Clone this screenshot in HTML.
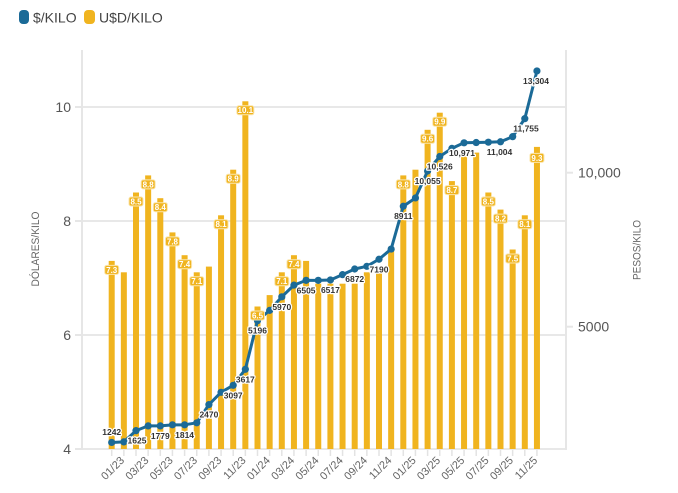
<!DOCTYPE html>
<html>
<head>
<meta charset="utf-8">
<style>
  html, body { margin: 0; padding: 0; background: #fff; }
  svg { display: block; font-family: "Liberation Sans", sans-serif; }
  .bl { font-size: 8px; font-weight: bold; fill: #fff; text-anchor: middle; }
  .ll { font-size: 8.5px; font-weight: bold; fill: #333; text-anchor: middle; stroke: #fff; stroke-width: 2.5px; paint-order: stroke; stroke-linejoin: round; }
  .xl { font-size: 11px; fill: #666; text-anchor: end; }
</style>
</head>
<body>
<svg width="678" height="493" viewBox="0 0 678 493" xmlns="http://www.w3.org/2000/svg">
  <!-- Legend -->
  <rect x="19" y="10" width="10" height="14" rx="4" fill="#1b6a97"/>
  <text x="33" y="22.5" font-size="14" fill="#444">$/KILO</text>
  <rect x="84" y="10" width="11" height="14" rx="4" fill="#f0b41f"/>
  <text x="99" y="22.5" font-size="14" fill="#444">U$D/KILO</text>

  <!-- Gridlines -->
  <g stroke="#e8e8e8" stroke-width="2">
    <line x1="82" y1="107" x2="566" y2="107"/>
    <line x1="82" y1="221" x2="566" y2="221"/>
    <line x1="82" y1="335" x2="566" y2="335"/>
    <line x1="82" y1="449" x2="566" y2="449"/>
  </g>
  <!-- Axis lines -->
  <g stroke="#e6e6e6" stroke-width="2">
    <line x1="82" y1="50" x2="82" y2="450"/>
    <line x1="566" y1="50" x2="566" y2="450"/>
    <line x1="75" y1="107" x2="82" y2="107"/>
    <line x1="75" y1="221" x2="82" y2="221"/>
    <line x1="75" y1="335" x2="82" y2="335"/>
    <line x1="75" y1="449" x2="82" y2="449"/>
    <line x1="566" y1="172.7" x2="573" y2="172.7"/>
    <line x1="566" y1="326.7" x2="573" y2="326.7"/>
  </g>
  <!-- Left tick labels -->
  <g font-size="14" fill="#555" text-anchor="end">
    <text x="71" y="112">10</text>
    <text x="71" y="226">8</text>
    <text x="71" y="340">6</text>
    <text x="71" y="454">4</text>
  </g>
  <!-- Right tick labels -->
  <g font-size="14" fill="#555">
    <text x="578" y="177.7">10,000</text>
    <text x="578" y="331.7">5000</text>
  </g>
  <!-- Axis titles -->
  <text transform="translate(39,249) rotate(-90)" font-size="11" fill="#666" text-anchor="middle" textLength="75" lengthAdjust="spacingAndGlyphs">DÓLARES/KILO</text>
  <text transform="translate(640.5,250) rotate(-90)" font-size="11" fill="#666" text-anchor="middle" textLength="60" lengthAdjust="spacingAndGlyphs">PESOS/KILO</text>

  <!-- X ticks -->
  <g stroke="#e3e3e3" stroke-width="1.5">
    <line x1="111.7" y1="450" x2="111.7" y2="456"/><line x1="123.85" y1="450" x2="123.85" y2="456"/>
    <line x1="136" y1="450" x2="136" y2="456"/><line x1="148.15" y1="450" x2="148.15" y2="456"/>
    <line x1="160.3" y1="450" x2="160.3" y2="456"/><line x1="172.45" y1="450" x2="172.45" y2="456"/>
    <line x1="184.6" y1="450" x2="184.6" y2="456"/><line x1="196.75" y1="450" x2="196.75" y2="456"/>
    <line x1="208.9" y1="450" x2="208.9" y2="456"/><line x1="221.05" y1="450" x2="221.05" y2="456"/>
    <line x1="233.2" y1="450" x2="233.2" y2="456"/><line x1="245.35" y1="450" x2="245.35" y2="456"/>
    <line x1="257.5" y1="450" x2="257.5" y2="456"/><line x1="269.65" y1="450" x2="269.65" y2="456"/>
    <line x1="281.8" y1="450" x2="281.8" y2="456"/><line x1="293.95" y1="450" x2="293.95" y2="456"/>
    <line x1="306.1" y1="450" x2="306.1" y2="456"/><line x1="318.25" y1="450" x2="318.25" y2="456"/>
    <line x1="330.4" y1="450" x2="330.4" y2="456"/><line x1="342.55" y1="450" x2="342.55" y2="456"/>
    <line x1="354.7" y1="450" x2="354.7" y2="456"/><line x1="366.85" y1="450" x2="366.85" y2="456"/>
    <line x1="379" y1="450" x2="379" y2="456"/><line x1="391.15" y1="450" x2="391.15" y2="456"/>
    <line x1="403.3" y1="450" x2="403.3" y2="456"/><line x1="415.45" y1="450" x2="415.45" y2="456"/>
    <line x1="427.6" y1="450" x2="427.6" y2="456"/><line x1="439.75" y1="450" x2="439.75" y2="456"/>
    <line x1="451.9" y1="450" x2="451.9" y2="456"/><line x1="464.05" y1="450" x2="464.05" y2="456"/>
    <line x1="476.2" y1="450" x2="476.2" y2="456"/><line x1="488.35" y1="450" x2="488.35" y2="456"/>
    <line x1="500.5" y1="450" x2="500.5" y2="456"/><line x1="512.65" y1="450" x2="512.65" y2="456"/>
    <line x1="524.8" y1="450" x2="524.8" y2="456"/><line x1="536.95" y1="450" x2="536.95" y2="456"/>
  </g>
  <!-- X labels -->
  <g>
    <text class="xl" transform="translate(125,461) rotate(-45)">01/23</text>
    <text class="xl" transform="translate(149.3,461) rotate(-45)">03/23</text>
    <text class="xl" transform="translate(173.6,461) rotate(-45)">05/23</text>
    <text class="xl" transform="translate(197.9,461) rotate(-45)">07/23</text>
    <text class="xl" transform="translate(222.2,461) rotate(-45)">09/23</text>
    <text class="xl" transform="translate(246.5,461) rotate(-45)">11/23</text>
    <text class="xl" transform="translate(270.8,461) rotate(-45)">01/24</text>
    <text class="xl" transform="translate(295.1,461) rotate(-45)">03/24</text>
    <text class="xl" transform="translate(319.4,461) rotate(-45)">05/24</text>
    <text class="xl" transform="translate(343.7,461) rotate(-45)">07/24</text>
    <text class="xl" transform="translate(368,461) rotate(-45)">09/24</text>
    <text class="xl" transform="translate(392.3,461) rotate(-45)">11/24</text>
    <text class="xl" transform="translate(416.6,461) rotate(-45)">01/25</text>
    <text class="xl" transform="translate(440.9,461) rotate(-45)">03/25</text>
    <text class="xl" transform="translate(465.2,461) rotate(-45)">05/25</text>
    <text class="xl" transform="translate(489.5,461) rotate(-45)">07/25</text>
    <text class="xl" transform="translate(513.8,461) rotate(-45)">09/25</text>
    <text class="xl" transform="translate(538.1,461) rotate(-45)">11/25</text>
  </g>

  <!-- Bars -->
  <g fill="#f0b41f">
    <rect x="108.7" y="260.9" width="6" height="188.1"/>
    <rect x="120.85" y="272.3" width="6" height="176.7"/>
    <rect x="133" y="192.5" width="6" height="256.5"/>
    <rect x="145.15" y="175.4" width="6" height="273.6"/>
    <rect x="157.3" y="198.2" width="6" height="250.8"/>
    <rect x="169.45" y="232.4" width="6" height="216.6"/>
    <rect x="181.6" y="255.2" width="6" height="193.8"/>
    <rect x="193.75" y="272.3" width="6" height="176.7"/>
    <rect x="205.9" y="266.6" width="6" height="182.4"/>
    <rect x="218.05" y="215.3" width="6" height="233.7"/>
    <rect x="230.2" y="169.7" width="6" height="279.3"/>
    <rect x="242.35" y="101.3" width="6" height="347.7"/>
    <rect x="254.5" y="306.5" width="6" height="142.5"/>
    <rect x="266.65" y="295.1" width="6" height="153.9"/>
    <rect x="278.8" y="272.3" width="6" height="176.7"/>
    <rect x="290.95" y="255.2" width="6" height="193.8"/>
    <rect x="303.1" y="260.9" width="6" height="188.1"/>
    <rect x="315.25" y="283.7" width="6" height="165.3"/>
    <rect x="327.4" y="283.7" width="6" height="165.3"/>
    <rect x="339.55" y="283.7" width="6" height="165.3"/>
    <rect x="351.7" y="283.7" width="6" height="165.3"/>
    <rect x="363.85" y="272.3" width="6" height="176.7"/>
    <rect x="376" y="272.3" width="6" height="176.7"/>
    <rect x="388.15" y="249.5" width="6" height="199.5"/>
    <rect x="400.3" y="175.4" width="6" height="273.6"/>
    <rect x="412.45" y="169.7" width="6" height="279.3"/>
    <rect x="424.6" y="129.8" width="6" height="319.2"/>
    <rect x="436.75" y="112.7" width="6" height="336.3"/>
    <rect x="448.9" y="181.1" width="6" height="267.9"/>
    <rect x="461.05" y="152.6" width="6" height="296.4"/>
    <rect x="473.2" y="152.6" width="6" height="296.4"/>
    <rect x="485.35" y="192.5" width="6" height="256.5"/>
    <rect x="497.5" y="209.6" width="6" height="239.4"/>
    <rect x="509.65" y="249.5" width="6" height="199.5"/>
    <rect x="521.8" y="215.3" width="6" height="233.7"/>
    <rect x="533.95" y="146.9" width="6" height="302.1"/>
  </g>

  <!-- Line -->
  <polyline fill="none" stroke="#1b6a97" stroke-width="3" stroke-linejoin="round" points="111.7,442.45 123.85,441.9 136,430.65 148.15,425.9 160.3,425.9 172.45,424.83 184.6,424.83 196.75,422.8 208.9,404.62 221.05,392.3 233.2,385.31 245.35,369.3 257.5,320.66 269.65,310.38 281.8,296.82 293.95,285.12 306.1,280.35 318.25,280.35 330.4,279.98 342.55,274.65 354.7,269 366.85,266.33 379,259.25 391.15,249.08 403.3,206.24 415.45,197.96 427.6,171.01 439.75,156.5 451.9,148.37 464.05,142.79 476.2,142.52 488.35,142.21 500.5,141.78 512.65,136.66 524.8,118.65 536.95,70.94"/>
  <g fill="#1b6a97">
    <circle cx="111.7" cy="442.45" r="3.6"/><circle cx="123.85" cy="441.9" r="3.6"/>
    <circle cx="136" cy="430.65" r="3.6"/><circle cx="148.15" cy="425.9" r="3.6"/>
    <circle cx="160.3" cy="425.9" r="3.6"/><circle cx="172.45" cy="424.83" r="3.6"/>
    <circle cx="184.6" cy="424.83" r="3.6"/><circle cx="196.75" cy="422.8" r="3.6"/>
    <circle cx="208.9" cy="404.62" r="3.6"/><circle cx="221.05" cy="392.3" r="3.6"/>
    <circle cx="233.2" cy="385.31" r="3.6"/><circle cx="245.35" cy="369.3" r="3.6"/>
    <circle cx="257.5" cy="320.66" r="3.6"/><circle cx="269.65" cy="310.38" r="3.6"/>
    <circle cx="281.8" cy="296.82" r="3.6"/><circle cx="293.95" cy="285.12" r="3.6"/>
    <circle cx="306.1" cy="280.35" r="3.6"/><circle cx="318.25" cy="280.35" r="3.6"/>
    <circle cx="330.4" cy="279.98" r="3.6"/><circle cx="342.55" cy="274.65" r="3.6"/>
    <circle cx="354.7" cy="269" r="3.6"/><circle cx="366.85" cy="266.33" r="3.6"/>
    <circle cx="379" cy="259.25" r="3.6"/><circle cx="391.15" cy="249.08" r="3.6"/>
    <circle cx="403.3" cy="206.24" r="3.6"/><circle cx="415.45" cy="197.96" r="3.6"/>
    <circle cx="427.6" cy="171.01" r="3.6"/><circle cx="439.75" cy="156.5" r="3.6"/>
    <circle cx="451.9" cy="148.37" r="3.6"/><circle cx="464.05" cy="142.79" r="3.6"/>
    <circle cx="476.2" cy="142.52" r="3.6"/><circle cx="488.35" cy="142.21" r="3.6"/>
    <circle cx="500.5" cy="141.78" r="3.6"/><circle cx="512.65" cy="136.66" r="3.6"/>
    <circle cx="524.8" cy="118.65" r="3.6"/><circle cx="536.95" cy="70.94" r="3.6"/>
  </g>

  <!-- Bar labels -->
  <g fill="#f0b41f" stroke="#fbe6ad" stroke-width="1">
    <rect x="104.7" y="265.4" width="14" height="9" rx="2"/>
    <rect x="129" y="197" width="14" height="9" rx="2"/>
    <rect x="141.15" y="179.9" width="14" height="9" rx="2"/>
    <rect x="153.3" y="202.7" width="14" height="9" rx="2"/>
    <rect x="165.45" y="236.9" width="14" height="9" rx="2"/>
    <rect x="177.6" y="259.7" width="14" height="9" rx="2"/>
    <rect x="189.75" y="276.8" width="14" height="9" rx="2"/>
    <rect x="214.05" y="219.8" width="14" height="9" rx="2"/>
    <rect x="226.2" y="174.2" width="14" height="9" rx="2"/>
    <rect x="236.85" y="105.8" width="17" height="9" rx="2"/>
    <rect x="250.5" y="311" width="14" height="9" rx="2"/>
    <rect x="274.8" y="276.8" width="14" height="9" rx="2"/>
    <rect x="286.95" y="259.7" width="14" height="9" rx="2"/>
    <rect x="396.3" y="179.9" width="14" height="9" rx="2"/>
    <rect x="420.6" y="134.3" width="14" height="9" rx="2"/>
    <rect x="432.75" y="117.2" width="14" height="9" rx="2"/>
    <rect x="444.9" y="185.6" width="14" height="9" rx="2"/>
    <rect x="481.35" y="197" width="14" height="9" rx="2"/>
    <rect x="493.5" y="214.1" width="14" height="9" rx="2"/>
    <rect x="505.65" y="254" width="14" height="9" rx="2"/>
    <rect x="517.8" y="219.8" width="14" height="9" rx="2"/>
    <rect x="529.95" y="153.4" width="14" height="9" rx="2"/>
  </g>
  <g>
    <text class="bl" x="111.7" y="272.8">7.3</text>
    <text class="bl" x="136" y="204.4">8.5</text>
    <text class="bl" x="148.15" y="187.3">8.8</text>
    <text class="bl" x="160.3" y="210.1">8.4</text>
    <text class="bl" x="172.45" y="244.3">7.8</text>
    <text class="bl" x="184.6" y="267.1">7.4</text>
    <text class="bl" x="196.75" y="284.2">7.1</text>
    <text class="bl" x="221.05" y="227.2">8.1</text>
    <text class="bl" x="233.2" y="181.6">8.9</text>
    <text class="bl" x="245.35" y="113.2">10.1</text>
    <text class="bl" x="257.5" y="318.4">6.5</text>
    <text class="bl" x="281.8" y="284.2">7.1</text>
    <text class="bl" x="293.95" y="267.1">7.4</text>
    <text class="bl" x="403.3" y="187.3">8.8</text>
    <text class="bl" x="427.6" y="141.7">9.6</text>
    <text class="bl" x="439.75" y="124.6">9.9</text>
    <text class="bl" x="451.9" y="193">8.7</text>
    <text class="bl" x="488.35" y="204.4">8.5</text>
    <text class="bl" x="500.5" y="221.5">8.2</text>
    <text class="bl" x="512.65" y="261.4">7.5</text>
    <text class="bl" x="524.8" y="227.2">8.1</text>
    <text class="bl" x="536.95" y="160.8">9.3</text>
  </g>

  <!-- Line labels -->
  <g>
    <text class="ll" x="111.7" y="435">1242</text>
    <text class="ll" x="137" y="443.6">1625</text>
    <text class="ll" x="160.3" y="438.9">1779</text>
    <text class="ll" x="184.6" y="437.8">1814</text>
    <text class="ll" x="208.9" y="417.6">2470</text>
    <text class="ll" x="233.2" y="398.3">3097</text>
    <text class="ll" x="245.35" y="382.3">3617</text>
    <text class="ll" x="257.5" y="333.7">5196</text>
    <text class="ll" x="281.8" y="309.8">5970</text>
    <text class="ll" x="306.1" y="293.4">6505</text>
    <text class="ll" x="330.4" y="293">6517</text>
    <text class="ll" x="354.7" y="282">6872</text>
    <text class="ll" x="379" y="272.3">7190</text>
    <text class="ll" x="403.3" y="219.2">8911</text>
    <text class="ll" x="427.6" y="184">10,055</text>
    <text class="ll" x="439.75" y="169.5">10,526</text>
    <text class="ll" x="462" y="155.8">10,971</text>
    <text class="ll" x="499.5" y="154.8">11,004</text>
    <text class="ll" x="526" y="131.7">11,755</text>
    <text class="ll" x="536" y="84">13,304</text>
  </g>
</svg>
</body>
</html>
